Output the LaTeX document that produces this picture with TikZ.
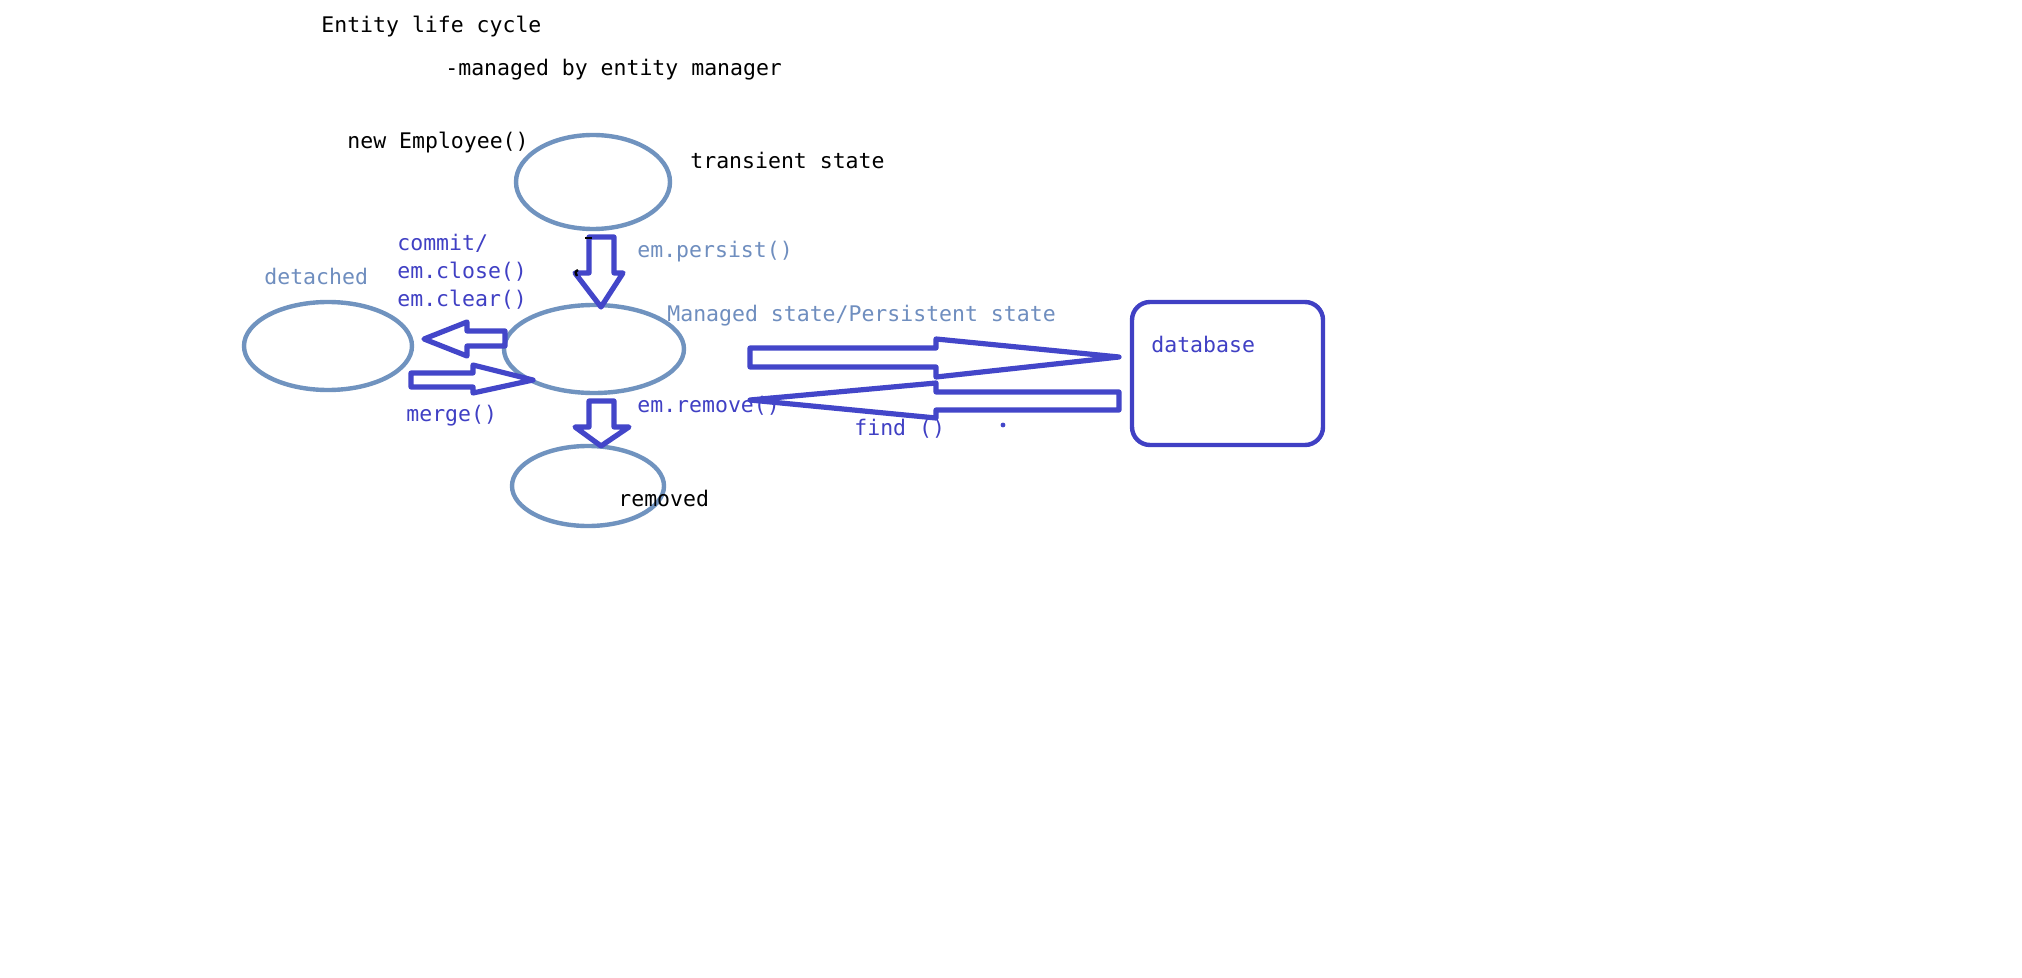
\documentclass[tikz,border=0pt]{standalone}
\usepackage{fontspec}
\setmonofont{DejaVu Sans Mono}
\usetikzlibrary{shapes.geometric}
\definecolor{ellc}{HTML}{7093BF}
\definecolor{arrc}{HTML}{4346C9}
\definecolor{lightc}{HTML}{6F8EBF}
\definecolor{bluec}{HTML}{4040C4}
\begin{document}
\begin{tikzpicture}[x=0.5pt,y=-0.5pt,
  txt/.style={font=\ttfamily\fontsize{10.75}{13}\selectfont, inner sep=0pt, anchor=base west},
  stateell/.style={draw=ellc, line width=2.2pt, ellipse, inner sep=0pt},
  barrow/.style={draw=arrc, line width=2.6pt, line join=round},
  dbbox/.style={draw=bluec, line width=2.2pt, rounded corners=9pt, inner sep=0pt}]
\path[fill=white] (0,0) rectangle (2022,978);
\useasboundingbox (0,0) rectangle (2022,978);

% states
\node[stateell, minimum width=77pt, minimum height=47pt] (transient) at (593,182) {};
\node[stateell, minimum width=90pt, minimum height=44pt] (managed) at (594,349) {};
\node[stateell, minimum width=84pt, minimum height=44pt] (detached) at (328,346) {};
\node[stateell, minimum width=76pt, minimum height=40pt] (removed) at (588,486) {};
\node[dbbox, minimum width=95.5pt, minimum height=71.5pt] (db) at (1227.5,373.5) {};

% texts
\node[txt] (t1) at (321,33) {Entity life cycle};
\node[txt] (t2) at (445,75.5) {-managed by entity manager};
\node[txt] (t3) at (347,149) {new Employee()};
\node[txt] (t4) at (690,168.5) {transient state};
\node[txt, text=lightc] (t5) at (637,257.5) {em.persist()};
\node[txt, text=bluec] (t6) at (397,250.5) {commit/};
\node[txt, text=bluec] (t7) at (397,278.5) {em.close()};
\node[txt, text=bluec] (t8) at (397,306.5) {em.clear()};
\node[txt, text=lightc] (t9) at (264,284.5) {detached};
\node[txt, text=lightc] (t10) at (667,321.5) {Managed state/Persistent state};
\node[txt, text=bluec] (t11) at (1151,352.5) {database};
\node[txt, text=bluec] (t12) at (406,421.5) {merge()};
\node[txt, text=bluec] (t13) at (637,412.5) {em.remove()};
\node[txt, text=bluec] (t14) at (854,435.5) {find ()};
\node[txt] (t15) at (618,506.5) {removed};

% block arrows
\draw[barrow] (589,237) -- (614,237) -- (614,273) -- (623,273) -- (601,307) -- (575,273) -- (589,273) -- cycle;
\draw[barrow] (505,331) -- (467,331) -- (467,322) -- (424,339) -- (467,356) -- (467,346) -- (505,346) -- cycle;
\draw[barrow] (411,373) -- (473,373) -- (473,365) -- (533,380) -- (473,393) -- (473,387) -- (411,387) -- cycle;
\draw[barrow] (589,401) -- (614,401) -- (614,427) -- (629,427) -- (601,446) -- (575,427) -- (589,427) -- cycle;
\draw[barrow] (750,348) -- (936,348) -- (936,339) -- (1119,357) -- (936,377) -- (936,367) -- (750,367) -- cycle;
\draw[barrow] (1119,392) -- (936,392) -- (936,383) -- (750,400) -- (936,418) -- (936,410) -- (1119,410) -- cycle;

% small marks
\fill[arrc] (1003,425) circle (1.2pt);
\draw[black, line width=1.2pt] (585,238) -- (592,238);
\draw[black, line width=1.2pt] (578,270) .. controls (575,272) .. (577,276);
\end{tikzpicture}
\end{document}
